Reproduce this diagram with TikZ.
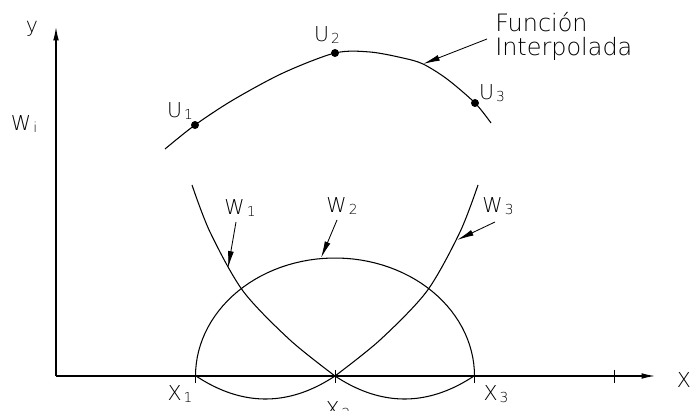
\documentclass[tikz,border=0pt]{standalone}
\usepackage{fontspec}
\newfontfamily\cadfont{DejaVu Sans ExtraLight}
\usetikzlibrary{arrows.meta}
\tikzset{
  curve/.style={line width=0.75pt,line join=round},
  lead/.style={line width=0.6pt,-{Latex[length=12pt,width=4.2pt]}},
  axis/.style={line width=0.8pt,-{Latex[length=9.5pt,width=4pt]}},
  dot/.style={circle,fill,inner sep=0pt,minimum size=0.2cm},
  lab/.style={inner sep=0pt,font=\cadfont\fontsize{14.6}{15}\selectfont},
  big/.style={inner sep=0pt,anchor=base west,font=\cadfont\fontsize{17}{17}\selectfont},
}
\newcommand{\subl}[2]{#1\hspace{1.5pt}\raisebox{-1.5pt}{\fontsize{9.8}{10}\selectfont #2}}

\begin{document}
\begin{tikzpicture}[x=0.025cm,y=-0.025cm]
\useasboundingbox (0,0) rectangle (695,411);
% axes
\coordinate (O) at (56,376);
\coordinate (ytip) at (56,27);
\coordinate (xtip) at (655,376);
\draw[axis] (O) -- (ytip);
\draw[axis] (O) -- (xtip);
\foreach \xx/\nm in {195/x1,335/x2,474/x3,614/x4} {
  \coordinate (\nm) at (\xx,376);
  \draw[line width=0.7pt] (\xx,370) -- (\xx,383);
}
% interpolated function
\draw[curve] plot[smooth] coordinates {(165,149) (195,125) (233,100) (283,73) (335,53) (370,52) (403,58) (423,64) (447,79) (475,103) (491,123)};
\node[dot] (u1) at (195,125) {};
\node[dot] (u2) at (335,53) {};
\node[dot] (u3) at (475,103) {};
% shape functions
\draw[curve] plot[smooth] coordinates {(192,185) (210,232) (243,291) (290,340) (335,376)};
\draw[curve] plot[domain=335:474,samples=40] (\x,{376+23*(1-((\x-404.5)/69.5)^2)});
\draw[curve] plot[smooth] coordinates {(478,185) (460,232) (427,291) (380,340) (335,376)};
\draw[curve] plot[domain=195:335,samples=40] (\x,{376+23*(1-((\x-265.5)/69.5)^2)});
\draw[curve] plot[domain=180:0,samples=60] ({335+139.5*cos(\x)},{376-118*sin(\x)});
% labels
\node[lab] (ylab) at (32,29) {y};
\node[lab] (wilab) at (24,124) {\subl{W}{i}};
\node[lab] (u1lab) at (180,111) {\subl{U}{1}};
\node[lab] (u2lab) at (327,35) {\subl{U}{2}};
\node[lab] (u3lab) at (492,93) {\subl{U}{3}};
\node[lab] (w1lab) at (240,208) {\subl{W}{1}};
\node[lab] (w2lab) at (342,206) {\subl{W}{2}};
\node[lab] (w3lab) at (498,206) {\subl{W}{3}};
\node[lab] (x1lab) at (180,394) {\subl{X}{1}};
\node[lab] (x2lab) at (338,410) {\subl{X}{2}};
\node[lab] (x3lab) at (496,394) {\subl{X}{3}};
\node[lab] (xlab) at (684,380) {X};
\node[big] (flab1) at (495,32) {Función};
\node[big] (flab2) at (495,56) {Interpolada};
% leaders
\coordinate (fa) at (487,39); \coordinate (ft) at (423,64);
\coordinate (w1a) at (236,222); \coordinate (w1t) at (228,268);
\coordinate (w2a) at (337,220); \coordinate (w2t) at (321,258);
\coordinate (w3a) at (495,222); \coordinate (w3t) at (457,240);
\draw[lead] (fa) -- (ft);
\draw[lead] (w1a) -- (w1t);
\draw[lead] (w2a) -- (w2t);
\draw[lead] (w3a) -- (w3t);
\end{tikzpicture}
\end{document}
